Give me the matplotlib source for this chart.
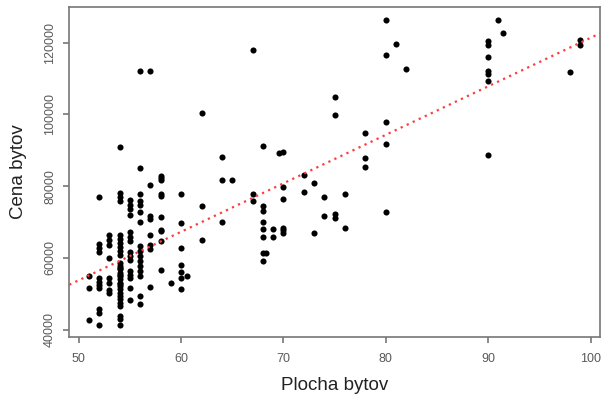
import numpy as np
import matplotlib
matplotlib.use("Agg")
import matplotlib.pyplot as plt

# Data (area in m2, price)
area = np.array(
    [51]*3 + [52]*11 + [53]*8 + [54]*30 + [55]*15 + [56]*16 + [57]*8 + [58]*10 +
    [59] + [60]*7 + [60.6] + [62]*3 + [64]*3 + [65] + [67]*3 + [68]*8 + [68.3] +
    [69]*2 + [69.6] + [70]*6 + [72]*2 + [73]*2 + [74]*2 + [75]*4 + [76]*2 + [78]*3 +
    [80]*5 + [81] + [82] + [90]*7 + [91] + [91.4] + [98] + [99]*2, dtype=float)

price = np.array(
    # 51
    [54900, 51600, 42700] +
    # 52
    [77000, 64000, 62800, 61700, 54400, 53300, 52500, 51600, 45600, 44700, 41400] +
    # 53
    [66500, 65100, 63700, 60000, 54400, 53000, 51000, 50200] +
    # 54
    [91000, 78100, 77000, 75800, 66500, 65300, 64200, 63100, 62000, 60900,
     58600, 57700, 56800, 55800, 54900, 54000, 53000, 52100, 51200, 50300,
     49300, 48400, 47500, 46500, 43700, 42800, 41400, 57200, 55300, 52600] +
    # 55
    [76000, 74700, 73500, 72000, 67100, 65900, 64600, 61600, 60600, 59300,
     56300, 55300, 54400, 51500, 48300] +
    # 56
    [112000, 85000, 77900, 75800, 74700, 72700, 70000, 63200, 61800, 60500,
     59100, 57700, 56300, 54900, 49300, 47000] +
    # 57
    [112000, 80300, 71600, 70700, 66500, 63500, 62600, 51800] +
    # 58
    [82700, 82200, 81800, 77900, 77200, 71500, 67900, 67400, 64600, 56500] +
    # 59
    [53000] +
    # 60
    [77900, 69700, 62800, 58000, 56100, 54400, 51400] +
    # 60.6
    [54900] +
    # 62
    [100500, 74400, 65100] +
    # 64
    [88000, 81600, 70000] +
    # 65
    [81600] +
    # 67
    [118000, 77700, 75900] +
    # 68
    [91100, 74600, 73000, 69900, 68100, 65800, 61400, 59200] +
    # 68.3
    [61400] +
    # 69
    [68100, 65900] +
    # 69.6
    [89300] +
    # 70
    [89600, 79800, 76300, 68400, 67700, 67000] +
    # 72
    [83000, 78300] +
    # 73
    [80900, 67000] +
    # 74
    [77000, 71600] +
    # 75
    [104800, 99800, 72100, 71200] +
    # 76
    [77900, 68400] +
    # 78
    [94900, 87900, 85300] +
    # 80
    [126500, 116700, 97800, 91900, 72800] +
    # 81
    [119800] +
    # 82
    [112600] +
    # 90
    [120400, 119300, 116000, 112000, 111400, 109300, 88800] +
    # 91, 91.4
    [126500, 122800] +
    # 98
    [111800] +
    # 99
    [120900, 119300], dtype=float)

# Regression line (price = intercept + slope * area)
line_intercept = -13910.0
line_slope = 1353.0

x_ticks = [50, 60, 70, 80, 90, 100]
y_ticks = [40000, 60000, 80000, 100000, 120000]
x_label = "Plocha bytov"
y_label = "Cena bytov"

plt.rcParams['font.family'] = ['Liberation Sans', 'DejaVu Sans']

fig = plt.figure(figsize=(6.01, 3.99), dpi=100)
ax = fig.add_axes([69.3/601, 1-336.7/399, (600-69.3)/601, (336.7-7.3)/399])

ax.plot(area, price, 'o', color='black', markersize=4.4, markeredgewidth=0)

# R-style 4% padding
xr = area.max() - area.min()
yr = price.max() - price.min()
xlim = (area.min() - 0.04*xr, area.max() + 0.04*xr)
ylim = (price.min() - 0.04*yr, price.max() + 0.04*yr)
ax.set_xlim(*xlim)
ax.set_ylim(*ylim)

xs = np.array(xlim)
ax.plot(xs, line_intercept + line_slope*xs, color='#ff3b3b',
        linewidth=1.6, linestyle=(0, (1, 2)))

ax.set_xticks(x_ticks)
ax.set_yticks(y_ticks)
ax.set_xticklabels([str(t) for t in x_ticks])
ax.set_yticklabels([str(t) for t in y_ticks], rotation=90, va='center')

for sp in ax.spines.values():
    sp.set_color('#777777')
    sp.set_linewidth(1.2)
ax.tick_params(axis='both', direction='out', length=4.5, width=1.2,
               color='#777777', labelcolor='#5a5a5a', labelsize=9)
ax.tick_params(axis='x', pad=7)
ax.tick_params(axis='y', pad=5)

ax.set_xlabel(x_label, fontsize=13.5, color='#222222', labelpad=9)
ax.set_ylabel(y_label, fontsize=13.5, color='#222222', labelpad=12)

fig.savefig('out.png', dpi=100)
